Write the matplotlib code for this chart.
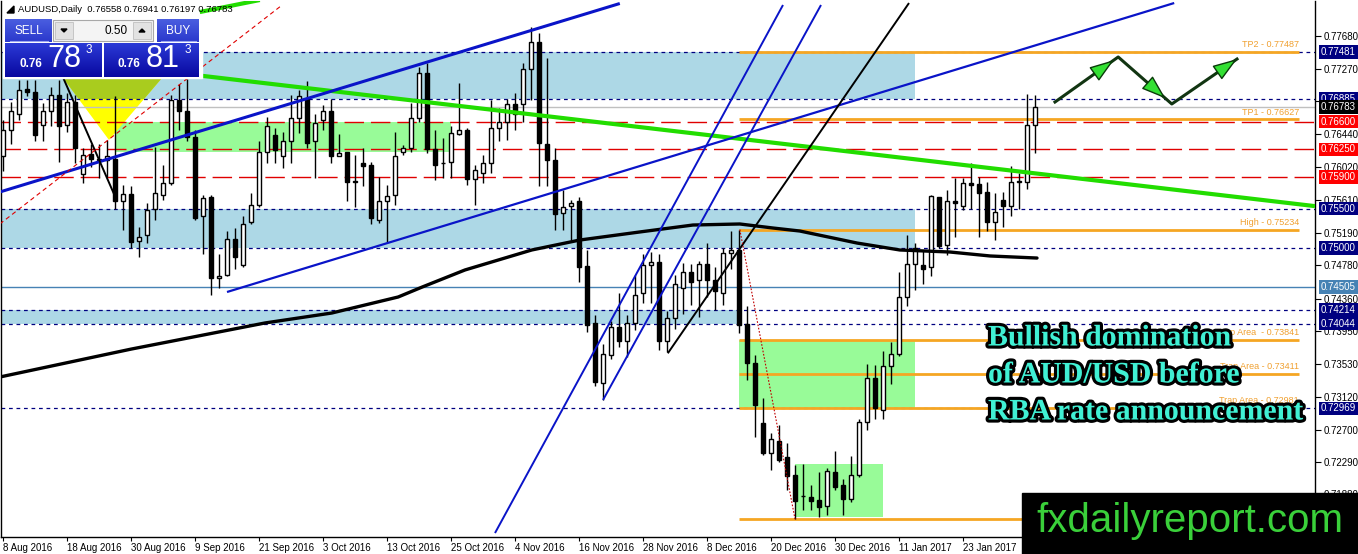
import numpy as np
import pandas as pd
import matplotlib
matplotlib.use('Agg')
import matplotlib.pyplot as plt
from matplotlib.patches import Rectangle, Polygon
from matplotlib.colors import to_rgb
import matplotlib.patheffects as pe

plt.rcParams['font.family'] = ['Liberation Sans', 'DejaVu Sans']

W, H = 1358, 554

# daily AUDUSD candles from 8 Aug 2016
opens = [.7616, .7649, .7670, .7701, .7698, .7656, .7673, .7694, .7656, .7685,
         .7594, .7619, .7613, .7611, .7613, .7559, .7568, .7509, .7516, .7550,
         .7567, .7582, .7687, .7673, .7641, .7540, .7565, .7462, .7466, .7512,
         .7478, .7533, .7554, .7622, .7643, .7616, .7635, .7665, .7689, .7635,
         .7662, .7673, .7617, .7622, .7584, .7608, .7605, .7536, .7559, .7567,
         .7621, .7627, .7664, .7721, .7625, .7608, .7609, .7644, .7649, .7587,
         .7595, .7607, .7652, .7659, .7682, .7682, .7727, .7761, .7632, .7611,
         .7544, .7553, .7559, .7477, .7405, .7329, .7365, .7400, .7382, .7405,
         .7443, .7479, .7482, .7382, .7411, .7449, .7469, .7459, .7480, .7460,
         .7443, .7494, .7498, .7404, .7355, .7278, .7241, .7256, .7235, .7213,
         .7186, .7185, .7181, .7173, .7217, .7200, .7182, .7213, .7280, .7336,
         .7295, .7351, .7366, .7438, .7480, .7479, .7476, .7565, .7504, .7559,
         .7553, .7582, .7581, .7571, .7533, .7561, .7553, .7584, .7584, .76558]
highs = [.7662, .7685, .7713, .7713, .7713, .7683, .7704, .7713, .7696, .7694,
         .7626, .7632, .7632, .7637, .7692, .7580, .7578, .7527, .7557, .7628,
         .7605, .7694, .7708, .7714, .7649, .7567, .7567, .7493, .7521, .7525,
         .7540, .7569, .7635, .7666, .7652, .7647, .7694, .7700, .7711, .7670,
         .7681, .7689, .7644, .7622, .7618, .7626, .7609, .7590, .7580, .7647,
         .7630, .7683, .7729, .7734, .7649, .7639, .7654, .7709, .7652, .7605,
         .7618, .7687, .7677, .7688, .7696, .7734, .7780, .7772, .7741, .7626,
         .7573, .7561, .7565, .7497, .7415, .7378, .7407, .7443, .7415, .7466,
         .7493, .7495, .7493, .7420, .7466, .7481, .7480, .7483, .7506, .7476,
         .7500, .7521, .75234, .7426, .7365, .7310, .7266, .7276, .7253, .7225,
         .7227, .7200, .7217, .7221, .7243, .7208, .7237, .7283, .7353, .7352,
         .7370, .7381, .7470, .7516, .7506, .7498, .7567, .7565, .7573, .7588,
         .7588, .7607, .7590, .7584, .7569, .7571, .7604, .7595, .7695, .76941]
lows = [.7597, .7632, .7662, .7692, .7635, .7635, .7654, .7609, .7647, .7607,
        .7582, .7603, .7588, .7590, .7550, .7523, .7500, .7489, .7506, .7535,
        .7561, .7580, .7649, .7635, .7535, .7493, .7441, .7449, .7464, .7474,
        .7476, .7531, .7552, .7607, .7607, .7601, .7607, .7645, .7626, .7588,
        .7649, .7607, .7616, .7560, .7552, .7578, .7531, .7532, .7508, .7554,
        .7618, .7622, .7660, .7620, .7586, .7588, .7588, .7643, .7580, .7554,
        .7582, .7595, .7635, .7637, .7649, .7660, .7687, .7578, .7578, .7523,
        .7523, .7510, .7457, .7394, .7325, .7307, .7359, .7375, .7362, .7396,
        .7430, .7430, .7371, .7368, .7398, .7417, .7428, .7413, .7438, .7422,
        .7428, .7474, .7392, .7333, .7261, .7238, .7219, .7229, .7194, .7157,
        .7168, .7168, .7160, .7162, .7194, .7162, .7179, .7210, .7269, .7284,
        .7284, .7328, .7363, .7427, .7447, .7455, .7464, .7500, .7491, .7514,
        .7548, .7550, .7514, .7521, .7510, .7527, .7540, .7550, .7575, .76197]
closes = [.7649, .7673, .7700, .7698, .7643, .7673, .7694, .7654, .7685, .7626,
          .7618, .7613, .7612, .7616, .7559, .7568, .7508, .7514, .7548, .7570,
          .7582, .7687, .7673, .7641, .7538, .7563, .7462, .7465, .7512, .7489,
          .7531, .7554, .7622, .7654, .7624, .7635, .7665, .7692, .7633, .7658,
          .7673, .7616, .7620, .7583, .7584, .7604, .7538, .7559, .7566, .7616,
          .7627, .7664, .7721, .7625, .7605, .7607, .7645, .7650, .7587, .7599,
          .7608, .7652, .7659, .7682, .7670, .7727, .7761, .7633, .7611, .7543,
          .7552, .7557, .7476, .7403, .7331, .7366, .7400, .7382, .7405, .7441,
          .7479, .7482, .7382, .7411, .7454, .7469, .7457, .7480, .7460, .7445,
          .7494, .7498, .7403, .7355, .7301, .7240, .7258, .7232, .7211, .7180,
          .7186, .7180, .7172, .7218, .7198, .7182, .7213, .7280, .7336, .7297,
          .7351, .7366, .7438, .7480, .7500, .7474, .7566, .7502, .7560, .7557,
          .7582, .7580, .7570, .7533, .7545, .7553, .7583, .7585, .7656, .76783]

# long moving average (read at a few points)
ma_bars = [-0.4, 16, 32.75, 41.1, 49.4, 52.4, 57.75, 66.1, 72.1, 79.6, 86.25,
           92.1, 96.25, 99.6, 106.75, 112.1, 118.4, 123.4, 129.25]
ma_prices = [0.73367, 0.73720, 0.74051, 0.74177, 0.74380, 0.74506, 0.74722, 0.74975,
             0.75101, 0.75203, 0.75291, 0.75304, 0.75253, 0.75215, 0.75063,
             0.74975, 0.74949, 0.74899, 0.74873]

y_ticks = [0.77680, 0.77270, 0.76860, 0.76440, 0.76020, 0.75610, 0.75190,
           0.74780, 0.74360, 0.73950, 0.73530, 0.73120, 0.72700, 0.72290, 0.71880]

navy_levels = [0.77481, 0.76885, 0.75500, 0.75000, 0.74214, 0.74044, 0.72969]
red_levels = [0.76600, 0.76250, 0.75900]
bid_level = 0.76783
steel_level = 0.74505

# (first bar, last bar, low, high)
blue_zones = [(-0.4, 114, 0.76885, 0.77481),
              (-0.4, 114, 0.75000, 0.75500),
              (-0.4, 92.1, 0.74044, 0.74214)]
green_zones = [(14, 56, 0.7621, 0.7659),
               (92, 114, 0.72969, 0.73841),
               (99, 110, 0.7160, 0.72266)]

orange_levels = [0.77487, 0.76627, 0.75234, 0.73841, 0.73411, 0.72981, 0.71570]
orange_labels = ['TP2 - 0.77487', 'TP1 - 0.76627', 'High - 0.75234',
                 'Trap Area  - 0.73841', 'Trap Area - 0.73411',
                 'Trap Area - 0.72981', '']

# trend lines: bars, prices, colour, width, style
trend_lines = [
    ([24, 164], [0.7719, 0.7553], '#22dd00', 3.0, '-'),
    ([24.6, 32.1], [0.77987, 0.78139], '#22dd00', 3.0, '-'),
    ([-0.4, 77.1], [0.75709, 0.78095], '#0a14c8', 2.2, '-'),
    ([28, 146.4], [0.74443, 0.78101], '#0a14c8', 1.6, '-'),
    ([61.5, 97.5], [0.71392, 0.78076], '#0a14c8', 1.4, '-'),
    ([75, 102.25], [0.73076, 0.78076], '#0a14c8', 1.4, '-'),
    ([83.1, 113.25], [0.73667, 0.78101], 'black', 1.4, '-'),
    ([7.1, 14.2], [0.77253, 0.75608], 'black', 1.4, '-'),
    ([-0.4, 34.9], [0.75304, 0.78076], '#e00000', 0.8, (0, (4, 3))),
    ([92.1, 99], [0.75234, 0.71570], '#c00000', 0.8, (0, (1.5, 1.5))),
]

triangle_bars = [6.8, 20.7, 13.25]
triangle_prices = [0.7725, 0.7725, 0.76367]

zigzag_bars = [131.5, 139.4, 146.1, 154.25]
zigzag_prices = [0.76848, 0.77418, 0.76823, 0.77392]

axis_labels = [(0.77481, '#000080'), (0.76885, '#000080'), (0.76783, 'black'),
               (0.76600, '#ff0000'), (0.76250, '#ff0000'), (0.75900, '#ff0000'),
               (0.75500, '#000080'), (0.75000, '#000080'), (0.74505, '#4682b4'),
               (0.74214, '#000080'), (0.74044, '#000080'), (0.72969, '#000080')]

o, h, l, c = map(np.array, (opens, highs, lows, closes))
idx = np.arange(len(c))
dates = pd.bdate_range('2016-08-08', periods=len(c))

fig = plt.figure(figsize=(W / 100, H / 100), dpi=100)
ax = fig.add_axes([1 / W, 17 / H, 1314 / W, 536 / H])
ax.set_xlim(-0.25, 164)
ax.set_ylim(0.713418, 0.781266)

for x0, x1, lo, hi in blue_zones:
    ax.add_patch(Rectangle((x0, lo), x1 - x0, hi - lo, color='#add8e6', lw=0, zorder=0.5))
for x0, x1, lo, hi in green_zones:
    ax.add_patch(Rectangle((x0, lo), x1 - x0, hi - lo, color='#98fb98', lw=0, zorder=0.5))

tri = list(zip(triangle_bars, triangle_prices))
ax.add_patch(Polygon(tri, closed=True, color='yellow', lw=0, zorder=0.6))
tri2 = Polygon(tri, closed=True, color='#a9cc1e', lw=0, zorder=0.7)
ax.add_patch(tri2)
clip = Rectangle((blue_zones[0][0], blue_zones[0][2]), blue_zones[0][1] - blue_zones[0][0],
                 blue_zones[0][3] - blue_zones[0][2], transform=ax.transData)
tri2.set_clip_path(clip)

for lv in navy_levels:
    ax.axhline(lv, color='#000080', lw=0.9, ls=(0, (3, 3)), zorder=1)
for lv in red_levels:
    ax.axhline(lv, color='#e00000', lw=1.0, ls=(0, (14, 5)), zorder=1)
ax.axhline(bid_level, color='#c0c0c0', lw=1, zorder=1)
ax.axhline(steel_level, color='#4682b4', lw=1, zorder=1)

for lv, lab in zip(orange_levels, orange_labels):
    ax.plot([92, 162], [lv, lv], color='#f5a623', lw=2, zorder=1.5, solid_capstyle='butt')
    if lab:
        ax.annotate(lab, (162, lv), xytext=(0, 1.5), textcoords='offset points',
                    ha='right', va='bottom', fontsize=6.5, color='#f0a030', zorder=1.6)

# candles
ax.vlines(idx, l, h, color='black', lw=1, zorder=3)
body_lo = np.minimum(o, c)
body_h = np.maximum(np.abs(c - o), 0.00004)
up = c >= o
ax.bar(idx[up], body_h[up], bottom=body_lo[up], width=0.62, color='white',
       edgecolor='black', lw=1, zorder=4)
ax.bar(idx[~up], body_h[~up], bottom=body_lo[~up], width=0.62, color='black',
       edgecolor='black', lw=1, zorder=4)

ax.plot(ma_bars, ma_prices, color='black', lw=2.4, zorder=5, solid_capstyle='round',
        solid_joinstyle='round')

for bx, py, col, lw, ls in trend_lines:
    ax.plot(bx, py, color=col, lw=lw, ls=ls, zorder=5, solid_capstyle='butt')

ax.plot(zigzag_bars, zigzag_prices, color='#123512', lw=2.2, zorder=6)
for k, frac in zip(range(3), [0.93, 0.88, 1.0]):
    x0, x1 = zigzag_bars[k], zigzag_bars[k + 1]
    y0, y1 = zigzag_prices[k], zigzag_prices[k + 1]
    tip = (x0 + (x1 - x0) * frac, y0 + (y1 - y0) * frac)
    base = (x0 + (x1 - x0) * (frac - 0.35), y0 + (y1 - y0) * (frac - 0.35))
    ax.annotate('', xy=tip, xytext=base,
                arrowprops=dict(arrowstyle='-|>,head_length=1.1,head_width=0.38',
                                mutation_scale=14, fc='#33e033', ec='#0a3a0a',
                                lw=1, shrinkA=0, shrinkB=0), zorder=7)

# axes styling
ax.spines['top'].set_visible(False)
for s in ['left', 'right', 'bottom']:
    ax.spines[s].set_color('black')
    ax.spines[s].set_linewidth(1)
ax.yaxis.tick_right()
ax.set_yticks(y_ticks)
ax.set_yticklabels([f'{v:.5f}' for v in y_ticks])
ax.tick_params(axis='y', direction='out', length=4, labelsize=7, pad=2, colors='black')
xt = idx[::8]
ax.set_xticks(xt)
ax.set_xticklabels([f'{d.day} {d:%b %Y}' for d in dates[xt]], ha='left')
ax.tick_params(axis='x', direction='out', length=3, labelsize=7, pad=1)
for t in ax.get_xticklabels():
    t.set_horizontalalignment('left')

for v, col in axis_labels:
    ax.text(1.0045, v, f'{v:.5f}', transform=ax.get_yaxis_transform(), ha='left',
            va='center', fontsize=7, color='white', zorder=10, clip_on=False,
            bbox=dict(boxstyle='square,pad=0.18', fc=col, ec='none'))

# overlay in pixel space for the terminal decorations
ov = fig.add_axes([0, 0, 1, 1])
ov.set_zorder(10)
ov.axis('off')


def grad_box(x0, y0, x1, y1, top, bot):
    g = np.linspace(0, 1, 40)[:, None, None]
    img = np.array(to_rgb(top)) * (1 - g) + np.array(to_rgb(bot)) * g
    ov.imshow(img, extent=(x0, x1, y1, y0), aspect='auto', interpolation='bilinear', zorder=3)


ov.add_patch(Rectangle((3, 16), 199, 62, color='white', zorder=2))
grad_box(5, 19, 52, 42, '#4a5ee0', '#2a38cc')
grad_box(157, 19, 199, 42, '#4a5ee0', '#2a38cc')
grad_box(5, 43, 102, 77, '#2b3ad6', '#0808a0')
grad_box(104, 43, 199, 77, '#2b3ad6', '#0808a0')
ov.plot([10, 48], [40.5, 40.5], color='#9aa6f0', lw=0.8, zorder=4)
ov.plot([161, 196], [40.5, 40.5], color='#9aa6f0', lw=0.8, zorder=4)
ov.add_patch(Rectangle((53, 20), 100, 21, fc='#f4f4f4', ec='#a8a8a8', lw=0.8, zorder=3))
ov.add_patch(Rectangle((55, 22), 18, 17, fc='#e2e2e2', ec='#c0c0c0', lw=0.6, zorder=4))
ov.add_patch(Rectangle((133, 22), 18, 17, fc='#e2e2e2', ec='#c0c0c0', lw=0.6, zorder=4))
ov.add_patch(Polygon([(61, 29), (67, 29), (64, 32)], color='black', zorder=5))
ov.add_patch(Polygon([(139, 32), (145, 32), (142, 29)], color='black', zorder=5))
ov.text(128, 30.5, '0.50', ha='right', va='center', fontsize=8.5, color='black', zorder=5)
ov.text(28.5, 30.5, 'SELL', ha='center', va='center', fontsize=8.5, color='white', zorder=5)
ov.text(178, 30.5, 'BUY', ha='center', va='center', fontsize=8.5, color='white', zorder=5)
for x_small, x_big, big in [(20, 47, '78'), (118, 146, '81')]:
    ov.text(x_small, 64, '0.76', ha='left', va='center', fontsize=8.5, fontweight='bold',
            color='white', zorder=5)
    ov.text(x_big, 59, big, ha='left', va='center', fontsize=22, color='white', zorder=5)
    ov.text(x_big + 39, 50, '3', ha='left', va='center', fontsize=8.5, color='white', zorder=5)

ov.add_patch(Polygon([(7, 13), (14, 6), (14, 13)], color='black', zorder=5))
ov.text(18, 9.5, 'AUDUSD,Daily  0.76558 0.76941 0.76197 0.76783', ha='left', va='center',
        fontsize=6.8, color='black', zorder=5)

for k, line in enumerate(['Bullish domination', 'of AUD/USD before', 'RBA rate announcement']):
    ov.text(988, 338 + 37 * k, line, ha='left', va='center', fontsize=21.5, fontweight='bold',
            family='Liberation Serif', color='#40f0d4', zorder=6,
            path_effects=[pe.withStroke(linewidth=4.5, foreground='black')])

ov.add_patch(Rectangle((1022, 493), W - 1022, H - 493, color='black', zorder=8))
ov.text(1190, 521, 'fxdailyreport.com', ha='center', va='center', fontsize=29,
        color='#3ad03a', zorder=9)

ov.set_xlim(0, W)
ov.set_ylim(H, 0)

fig.savefig('out.png', dpi=100, facecolor='white')
